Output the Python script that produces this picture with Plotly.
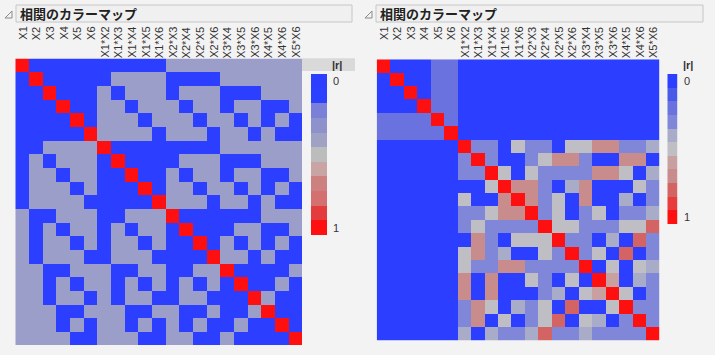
import plotly.graph_objects as go

W, H = 715, 355

labels = ["X1", "X2", "X3", "X4", "X5", "X6",
          "X1*X2", "X1*X3", "X1*X4", "X1*X5", "X1*X6",
          "X2*X3", "X2*X4", "X2*X5", "X2*X6",
          "X3*X4", "X3*X5", "X3*X6", "X4*X5", "X4*X6", "X5*X6"]

# |r| codes: digit d -> d/10, 'X' -> 1.0
left_rows = [
    "X00000" + "000003333333333",
    "0X0000" + "033330000333333",
    "00X000" + "303330333000333",
    "000X00" + "330333033033003",
    "0000X0" + "333033303303030",
    "00000X" + "333303330330300",
    "003333" + "X00000000333333",
    "030333" + "0X0000333000333",
    "033033" + "00X003033033003",
    "033303" + "000X03303303030",
    "033330" + "0000X3330330300",
    "300333" + "00333X000000333",
    "303033" + "030330X00033003",
    "303303" + "0330300X0303030",
    "303330" + "03330000X330300",
    "330033" + "300330033X00003",
    "330303" + "3030303030X0030",
    "330330" + "30330033000X300",
    "333003" + "330033003003X00",
    "333030" + "3303030300300X0",
    "333300" + "33300330030000X",
]

right_rows = [
    "X00022" + "000000000000000",
    "0X0022" + "000000000000000",
    "00X022" + "000000000000000",
    "000X22" + "000000000000000",
    "2222X2" + "000000000000000",
    "22222X" + "000000000000000",
    "000000" + "X33053305577334",
    "000000" + "3X3003577300770",
    "000000" + "33X505333377504",
    "000000" + "005X77304700053",
    "000000" + "5007X7350700403",
    "000000" + "33577X350350334",
    "000000" + "353333X55333558",
    "000000" + "0730555X3304083",
    "000000" + "57340053X350803",
    "000000" + "533773333X05054",
    "000000" + "7070053050X6043",
    "000000" + "70700034056X503",
    "000000" + "375043508005X33",
    "000000" + "3705035805403X3",
    "000000" + "40433483343333X",
]

legend_levels = [0.0, 0.1, 0.2, 0.3, 0.4, 0.5, 0.6, 0.7, 0.8, 0.9, 1.0]

left_cell_colors = ["#2c3eff", "#2c3eff", "#7a80d8", "#9a9ec8", "#a0a2c4", "#bcbcbc",
                    "#c8a4a4", "#cc8080", "#d47070", "#e43c3c", "#ff1010"]
left_legend_colors = ["#2c3eff", "#2c40ff", "#7a80d8", "#8e92cc", "#a0a2c4", "#bcbcbc",
                      "#c8a4a4", "#cc8080", "#d47070", "#e43c3c", "#ff1010"]
right_colors = ["#2c3eff", "#4a5ae8", "#6a72e0", "#8086d8", "#a8acc8", "#bebec4",
                "#c8a0a0", "#c88c8c", "#d46464", "#e83c3c", "#ff1010"]


def to_r(rows):
    return [[1.0 if ch == "X" else int(ch) / 10 for ch in row] for row in rows]


def scale(colors):
    n = len(colors)
    cs = []
    for k, c in enumerate(colors):
        cs.append([k / n, c])
        cs.append([(k + 1) / n, c])
    return cs


def px(x):
    return x / W


def py(y):
    return 1 - y / H


ZMIN, ZMAX = -0.05, 1.05
idx = list(range(len(labels)))

fig = go.Figure()

# panel geometry (pixels)
L = dict(x0=15.3, x1=302.0, y0=58.5, y1=345.0)
R = dict(x0=376.7, x1=659.3, y0=59.3, y1=340.7)

fig.add_trace(go.Heatmap(z=to_r(left_rows), x=idx, y=idx, colorscale=scale(left_cell_colors),
                         zmin=ZMIN, zmax=ZMAX, showscale=False, hoverinfo="skip",
                         xaxis="x", yaxis="y"))
fig.add_trace(go.Heatmap(z=to_r(right_rows), x=idx, y=idx, colorscale=scale(right_colors),
                         zmin=ZMIN, zmax=ZMAX, showscale=False, hoverinfo="skip",
                         xaxis="x2", yaxis="y2"))
fig.add_trace(go.Heatmap(z=[[v] for v in legend_levels], x=[0], y=list(range(11)),
                         colorscale=scale(left_legend_colors), zmin=ZMIN, zmax=ZMAX,
                         showscale=False, hoverinfo="skip", xaxis="x3", yaxis="y3"))
fig.add_trace(go.Heatmap(z=[[v] for v in legend_levels], x=[0], y=list(range(11)),
                         colorscale=scale(right_colors), zmin=ZMIN, zmax=ZMAX,
                         showscale=False, hoverinfo="skip", xaxis="x4", yaxis="y4"))

ax_common = dict(showticklabels=False, showgrid=False, zeroline=False, ticks="",
                 showline=False, fixedrange=True)

fig.update_layout(
    width=W, height=H, margin=dict(l=0, r=0, t=0, b=0),
    paper_bgcolor="#f3f3f3", plot_bgcolor="#f3f3f3", showlegend=False,
    xaxis=dict(domain=[px(L["x0"]), px(L["x1"])], range=[-0.5, 20.5], **ax_common),
    yaxis=dict(domain=[py(L["y1"]), py(L["y0"])], range=[20.5, -0.5], **ax_common),
    xaxis2=dict(domain=[px(R["x0"]), px(R["x1"])], range=[-0.5, 20.5], **ax_common),
    yaxis2=dict(domain=[py(R["y1"]), py(R["y0"])], range=[20.5, -0.5], **ax_common),
    xaxis3=dict(domain=[px(311), px(327.3)], range=[-0.5, 0.5], **ax_common),
    yaxis3=dict(domain=[py(235), py(74)], range=[10.5, -0.5], **ax_common),
    xaxis4=dict(domain=[px(667.3), px(677.7)], range=[-0.5, 0.5], **ax_common),
    yaxis4=dict(domain=[py(224.3), py(74)], range=[10.5, -0.5], **ax_common),
)

shapes = []
annotations = []

# header boxes with title and disclosure triangle
for (bx0, bx1, tx) in [(16, 352, 5), (376, 703, 365)]:
    shapes.append(dict(type="rect", xref="paper", yref="paper",
                       x0=px(bx0), x1=px(bx1), y0=py(22), y1=py(5),
                       fillcolor="#f0f0f0", line=dict(color="#c6c6c6", width=1)))
    shapes.append(dict(type="path", xref="paper", yref="paper",
                       path=f"M {px(tx)} {py(18)} L {px(tx + 7)} {py(18)} L {px(tx + 7)} {py(11)} Z",
                       fillcolor="rgba(0,0,0,0)", line=dict(color="#8a8a8a", width=1)))
    annotations.append(dict(text="<b>相関のカラーマップ</b>", xref="paper", yref="paper",
                            x=px(bx0 + 2), y=py(13.5), xanchor="left", yanchor="middle",
                            showarrow=False,
                            font=dict(family="Noto Sans CJK JP", size=13, color="#222222")))

# column labels
for xref in ["x", "x2"]:
    for i, lab in enumerate(labels):
        annotations.append(dict(text=lab, xref=xref, yref="paper", x=i, y=py(25),
                                xanchor="center", yanchor="top", textangle=-90,
                                showarrow=False,
                                font=dict(family="Liberation Sans", size=11, color="#333333")))

# |r| header band (left)
shapes.append(dict(type="rect", xref="paper", yref="paper", x0=px(302), x1=px(355),
                   y0=py(71), y1=py(58.3), fillcolor="#d9d9d9", line=dict(width=0)))
for (xl, y0lab, y1lab, yr) in [(331, 81, 228, 65), (682, 80.5, 217, 65)]:
    annotations.append(dict(text="<b>|r|</b>", xref="paper", yref="paper", x=px(xl + 6),
                            y=py(yr), xanchor="center", yanchor="middle", showarrow=False,
                            font=dict(family="Liberation Sans", size=11, color="#333333")))
    annotations.append(dict(text="0", xref="paper", yref="paper", x=px(xl), y=py(y0lab),
                            xanchor="left", yanchor="middle", showarrow=False,
                            font=dict(family="Liberation Sans", size=11, color="#333333")))
    annotations.append(dict(text="1", xref="paper", yref="paper", x=px(xl), y=py(y1lab),
                            xanchor="left", yanchor="middle", showarrow=False,
                            font=dict(family="Liberation Sans", size=11, color="#333333")))

fig.update_layout(shapes=shapes, annotations=annotations)

fig.write_html("out.html")
